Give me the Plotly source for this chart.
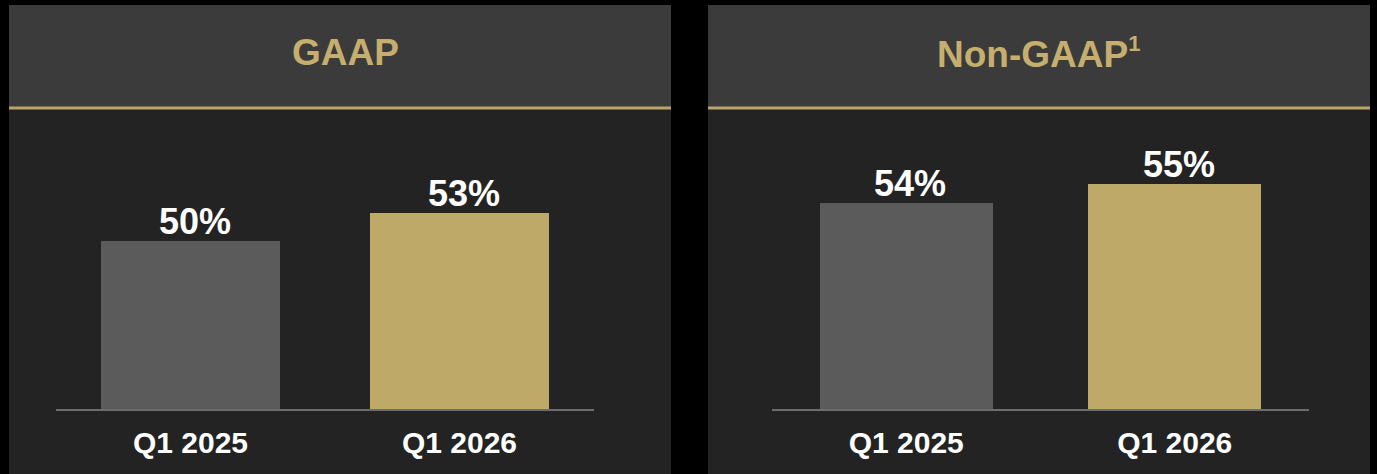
import plotly.graph_objects as go

W, H = 1377, 474

categories = ["Q1 2025", "Q1 2026"]
gaap_values = [50, 53]
nongaap_values = [54, 55]
panel_titles = ["GAAP", "Non-GAAP<sup><span style='font-size:22px'>1</span></sup>"]

GRAY = "#5b5b5b"
GOLD = "#bfa968"
TITLE_GOLD = "#c6af6e"
HEADER = "#3b3b3b"
BODY = "#232323"
FONT = "Liberation Sans"


def px_x(p):
    return p / W


def px_y(p):
    return 1 - p / H


fig = go.Figure()

annotations = []
for values, xa, ya, width in [(gaap_values, "x", "y", 0.665), (nongaap_values, "x2", "y2", 0.643)]:
    fig.add_trace(go.Bar(
        x=categories, y=values, xaxis=xa, yaxis=ya,
        marker=dict(color=[GRAY, GOLD], line=dict(width=0)),
        width=width, hoverinfo="skip", showlegend=False,
    ))
    for c, v in zip(categories, values):
        annotations.append(dict(
            text=f"{v}%", x=c, y=v, xref=xa, yref=ya, showarrow=False,
            xanchor="center", yanchor="bottom", yshift=-3, xshift=4,
            font=dict(family=FONT, size=36, color="white", weight="bold"),
        ))

shapes = []
for (x0, x1) in [(9, 671), (708, 1370)]:
    shapes.append(dict(type="rect", xref="paper", yref="paper", layer="below",
                       x0=px_x(x0), x1=px_x(x1), y0=px_y(474), y1=px_y(107),
                       fillcolor=BODY, line=dict(width=0)))
    shapes.append(dict(type="rect", xref="paper", yref="paper", layer="below",
                       x0=px_x(x0), x1=px_x(x1), y0=px_y(107), y1=px_y(5),
                       fillcolor=HEADER, line=dict(width=0)))
    shapes.append(dict(type="line", xref="paper", yref="paper", layer="above",
                       x0=px_x(x0), x1=px_x(x1), y0=px_y(108), y1=px_y(108),
                       line=dict(color="#b9a46a", width=3)))

annotations += [
    dict(text=panel_titles[0], x=px_x(345), y=px_y(53), xref="paper", yref="paper",
         showarrow=False, xanchor="center", yanchor="middle",
         font=dict(family=FONT, size=37, color=TITLE_GOLD, weight="bold")),
    dict(text=panel_titles[1], x=px_x(1038), y=px_y(53), xref="paper", yref="paper",
         showarrow=False, xanchor="center", yanchor="middle",
         font=dict(family=FONT, size=37, color=TITLE_GOLD, weight="bold")),
]

axis_common = dict(
    type="category", range=[-0.5, 1.5], showgrid=False, zeroline=False,
    showline=True, linecolor="#6d6d6d", linewidth=2,
    ticks="outside", ticklen=6, tickcolor="rgba(0,0,0,0)",
    tickfont=dict(family=FONT, size=30, color="white", weight="bold"),
    fixedrange=True,
)
yaxis_common = dict(visible=False, showgrid=False, zeroline=False, fixedrange=True)

y_dom = [px_y(409), px_y(120)]

fig.update_layout(
    width=W, height=H,
    margin=dict(l=0, r=0, t=0, b=0),
    paper_bgcolor="black", plot_bgcolor="rgba(0,0,0,0)",
    xaxis=dict(domain=[px_x(56), px_x(594)], anchor="y", **axis_common),
    yaxis=dict(domain=y_dom, anchor="x", range=[32, 32 + 289 / (28 / 3)], **yaxis_common),
    xaxis2=dict(domain=[px_x(772), px_x(1309)], anchor="y2", **axis_common),
    yaxis2=dict(domain=y_dom, anchor="x2", range=[54 - 206 / 19, 54 - 206 / 19 + 289 / 19], **yaxis_common),
    shapes=shapes, annotations=annotations,
    bargap=0,
)

fig.write_html("out.html", config={"displayModeBar": False},
               post_script="document.body.style.margin='0';document.body.style.background='black';")
